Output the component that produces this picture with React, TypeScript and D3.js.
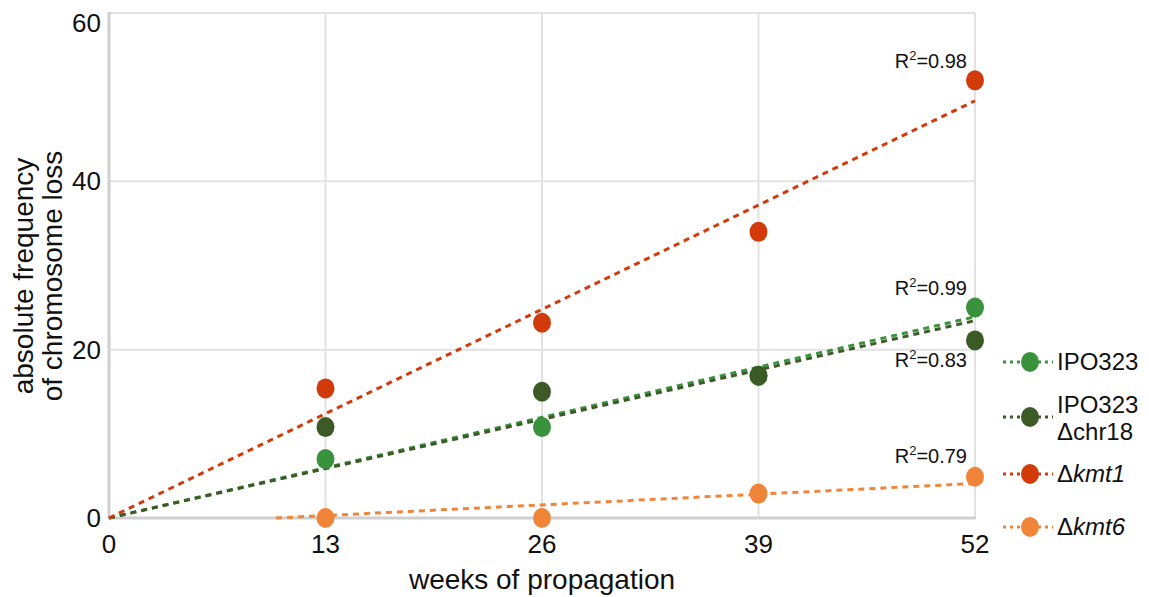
import React from 'react';
import * as d3 from 'd3';

const weeks = [13, 26, 39, 52];
const ipo323 = [7.0, 10.8, 16.9, 25.0];
const chr18 = [10.8, 15.0, 16.9, 21.1];
const kmt1 = [15.4, 23.2, 34.0, 52.0];
const kmt6 = [0, 0, 2.9, 4.9];
const rSquared = ['0.99', '0.83', '0.98', '0.79'];
const xTicks = [0, 13, 26, 39, 52];
const yTicks = [0, 20, 40, 60];

const series = [
  { name: 'IPO323', sub: '', italic: false, values: ipo323, color: '#3b923c', r2: rSquared[0], origin: true, labelDy: -13 },
  { name: 'IPO323', sub: '\u0394chr18', italic: false, values: chr18, color: '#3b5a25', r2: rSquared[1], origin: true, labelDy: 27 },
  { name: 'kmt1', sub: '', italic: true, values: kmt1, color: '#d23a0a', r2: rSquared[2], origin: true, labelDy: -12 },
  { name: 'kmt6', sub: '', italic: true, values: kmt6, color: '#f0853a', r2: rSquared[3], origin: false, labelDy: -14 },
];

// least squares, either through the origin or with an intercept (origin point included)
function fit(values: number[], throughOrigin: boolean) {
  if (throughOrigin) {
    const sxy = d3.sum(weeks, (w, i) => w * values[i]);
    const sxx = d3.sum(weeks, (w) => w * w);
    return { slope: sxy / sxx, intercept: 0 };
  }
  const xs = [0, ...weeks];
  const ys = [0, ...values];
  const mx = d3.mean(xs)!;
  const my = d3.mean(ys)!;
  const sxy = d3.sum(xs, (x, i) => (x - mx) * (ys[i] - my));
  const sxx = d3.sum(xs, (x) => (x - mx) * (x - mx));
  const slope = sxy / sxx;
  return { slope, intercept: my - slope * mx };
}

export default function App() {
  const width = 1149;
  const height = 597;
  const x = d3.scaleLinear().domain([0, 52]).range([109, 975]);
  const y = d3.scaleLinear().domain([0, 60]).range([518, 13]);
  const font = 'Liberation Sans, Arial, sans-serif';

  const legendY = [362, 417, 474, 527];

  return (
    <svg width={width} height={height} style={{ position: 'absolute', left: 0, top: 0 }} fontFamily={font}>
      <rect width={width} height={height} fill="#fff" />
      {/* grid */}
      {yTicks.filter((t) => t > 0).map((t) => (
        <line key={'gy' + t} x1={x(0)} x2={x(52)} y1={y(t)} y2={y(t)} stroke="#e2e2e2" strokeWidth={2} />
      ))}
      {xTicks.filter((t) => t > 0).map((t) => (
        <line key={'gx' + t} x1={x(t)} x2={x(t)} y1={y(60)} y2={y(0)} stroke="#e2e2e2" strokeWidth={2} />
      ))}
      {/* axes */}
      <line x1={x(0)} x2={x(0)} y1={y(60) - 1} y2={y(0) + 1} stroke="#cfcfcf" strokeWidth={3} />
      <line x1={x(0)} x2={x(52) + 1} y1={y(0)} y2={y(0)} stroke="#cfcfcf" strokeWidth={3} />
      {yTicks.map((t) => (
        <text key={'yt' + t} x={x(0) - 8} y={Math.max(y(t), 23) + 9} textAnchor="end" fontSize={26} fill="#111">{t}</text>
      ))}
      {xTicks.map((t) => (
        <text key={'xt' + t} x={x(t)} y={553} textAnchor="middle" fontSize={26} fill="#111">{t}</text>
      ))}
      <text x={x(26)} y={589} textAnchor="middle" fontSize={28} fill="#111">weeks of propagation</text>
      <text transform={`translate(0,276) rotate(-90)`} textAnchor="middle" fontSize={28} fill="#111">
        <tspan x={0} y={33}>absolute frequency</tspan>
        <tspan x={0} y={62}>of chromosome loss</tspan>
      </text>

      {/* trend lines */}
      {series.map((s, i) => {
        const { slope, intercept } = fit(s.values, s.origin);
        const x0 = intercept < 0 ? -intercept / slope : 0;
        const line = d3.line<number>().x((w) => x(w)).y((w) => y(Math.max(0, slope * w + intercept)));
        return (
          <path key={'l' + i} d={line([x0, 52]) || ''} fill="none" stroke={s.color} strokeWidth={3}
            strokeDasharray="6,5" />
        );
      })}
      {/* points */}
      {series.map((s, i) => (
        <g key={'p' + i}>
          {weeks.map((w, j) => (
            <ellipse key={j} cx={x(w)} cy={y(s.values[j])} rx={9} ry={10} fill={s.color} />
          ))}
        </g>
      ))}
      {/* R2 labels */}
      {series.map((s, i) => (
        <text key={'r' + i} x={x(52) - 8} y={y(s.values[3]) + s.labelDy} textAnchor="end" fontSize={20} fill="#111">
          R<tspan dy={-8} fontSize={13}>2</tspan><tspan dy={8}>={s.r2}</tspan>
        </text>
      ))}
      {/* legend */}
      {series.map((s, i) => (
        <g key={'lg' + i} transform={`translate(1003,${legendY[i]})`}>
          <line x1={0} x2={50} y1={0} y2={0} stroke={s.color} strokeWidth={3} strokeDasharray="3,4" />
          <ellipse cx={27} cy={0} rx={9} ry={10} fill={s.color} />
          {s.sub ? (
            <text fontSize={24} fill="#111">
              <tspan x={54} y={-4}>{s.name}</tspan>
              <tspan x={54} y={23}>{s.sub}</tspan>
            </text>
          ) : (
            <text x={54} y={8} fontSize={24} fill="#111">
              {s.italic ? '\u0394' : ''}
              <tspan fontStyle={s.italic ? 'italic' : 'normal'}>{s.name}</tspan>
            </text>
          )}
        </g>
      ))}
    </svg>
  );
}
